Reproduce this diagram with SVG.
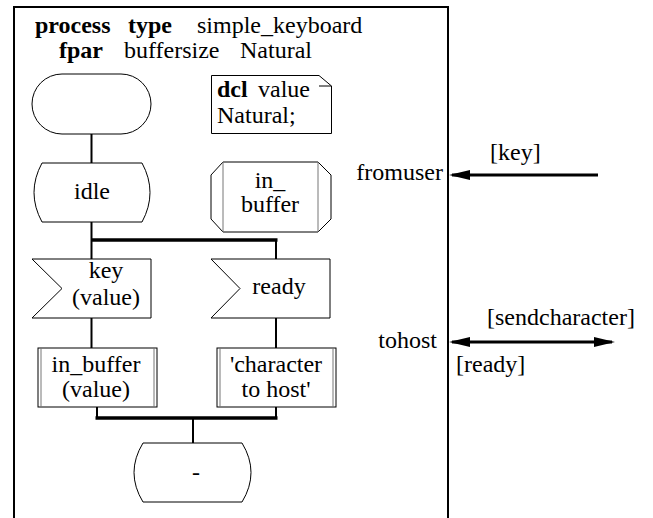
<svg xmlns="http://www.w3.org/2000/svg" width="653" height="518" viewBox="0 0 653 518" font-family="'Liberation Serif', 'DejaVu Serif', serif" font-size="24">
  <style>
    text { font-family: 'Liberation Serif', 'DejaVu Serif', serif; font-size: 24px; fill: #000; }
    .b { font-weight: bold; }
    .c { text-anchor: middle; }
    .e { text-anchor: end; }
    .sym { fill: #fff; stroke: #000; stroke-width: 1; }
    .thin { fill: none; stroke: #000; stroke-width: 1; }
    .inner { fill: none; stroke: #777; stroke-width: 1; }
    .flow { fill: none; stroke: #000; stroke-width: 2; }
    .join { fill: none; stroke: #000; stroke-width: 3.5; }
    .sig { fill: none; stroke: #000; stroke-width: 3; }
    .frame { fill: none; stroke: #000; stroke-width: 2; }
  </style>
  <defs>
    <marker id="ah" viewBox="0 0 21 10" refX="18" refY="5" markerWidth="21" markerHeight="10" markerUnits="userSpaceOnUse" orient="auto-start-reverse">
      <path d="M0,0 L21,5 L0,10 Z" fill="#000"/>
    </marker>
  </defs>

  <rect width="653" height="518" fill="#fff"/>

  <!-- process type frame -->
  <g id="frame">
    <path class="frame" d="M14,518 L14,7 L448,7 L448,518"/>
    <text class="b" x="35" y="33">process</text>
    <text class="b" x="128" y="33">type</text>
    <text x="197" y="33">simple_keyboard</text>
    <text class="b" x="59" y="58">fpar</text>
    <text x="124" y="58">buffersize</text>
    <text x="240" y="58">Natural</text>
  </g>

  <!-- flow lines -->
  <g id="connectors">
    <path class="flow" d="M91.5,134 V163"/>
    <path class="flow" d="M91.5,222 V259"/>
    <path class="flow" d="M276,240 V259"/>
    <path class="join" d="M91.5,240 H277.5"/>
    <path class="flow" d="M91.5,318 V348"/>
    <path class="flow" d="M276,318 V348"/>
    <path class="flow" d="M97,407 V418"/>
    <path class="flow" d="M276,407 V418"/>
    <path class="join" d="M95.5,418 H277.5"/>
    <path class="flow" d="M193,418 V443"/>
    <!-- signal routes -->
    <path class="sig" d="M598,175 H452" marker-end="url(#ah)"/>
    <path class="sig" d="M452,342 H612" marker-start="url(#ah)" marker-end="url(#ah)"/>
  </g>

  <g id="start">
    <rect class="sym" x="32" y="74" width="119" height="60" rx="30" ry="30"/>
  </g>

  <g id="dcl">
    <path class="sym" d="M211.5,75.5 H319 L331.5,86 V133.5 H211.5 Z"/>
    <path class="thin" d="M319,86 H331.5"/>
    <text class="b" x="217" y="97">dcl</text>
    <text x="258" y="97">value</text>
    <text x="217" y="123">Natural;</text>
  </g>

  <g id="state_idle">
    <path class="sym" d="M42,163 H142 Q158,192.5 142,222 H42 Q26,192.5 42,163 Z"/>
    <text class="c" x="92" y="199">idle</text>
  </g>

  <g id="proc_in_buffer">
    <path class="sym" d="M223,162 H318 L331,175 V219 L318,232 H223 L211,219 V175 Z"/>
    <path class="inner" d="M223,162 V232 M318,162 V232"/>
    <text class="c" x="270" y="188">in_</text>
    <text class="c" x="270" y="212">buffer</text>
  </g>

  <g id="input_key">
    <path class="sym" d="M32,259 H151 V318 H32 L62,288.5 Z"/>
    <text class="c" x="106" y="278">key</text>
    <text class="c" x="106" y="305">(value)</text>
  </g>

  <g id="input_ready">
    <path class="sym" d="M211,259 H330 V318 H211 L240,288.5 Z"/>
    <text class="c" x="279" y="294">ready</text>
  </g>

  <g id="call_in_buffer">
    <rect class="sym" x="38" y="348" width="119" height="59"/>
    <path class="inner" d="M41,348 V407 M154,348 V407"/>
    <text class="c" x="96" y="372">in_buffer</text>
    <text class="c" x="96" y="397">(value)</text>
  </g>

  <g id="task_send">
    <rect class="sym" x="217" y="348" width="119" height="59"/>
    <path class="inner" d="M220,348 V407 M333,348 V407"/>
    <text class="c" x="276" y="372">'character</text>
    <text class="c" x="276" y="397">to host'</text>
  </g>

  <g id="state_dash">
    <path class="sym" d="M143,443 H242 Q260,472.5 242,502 H143 Q125,472.5 143,443 Z"/>
    <text class="c" x="196" y="480">-</text>
  </g>

  <g id="gate_fromuser">
    <text class="e" x="443" y="180">fromuser</text>
    <text x="490" y="160">[key]</text>
  </g>

  <g id="gate_tohost">
    <text class="e" x="437" y="348">tohost</text>
    <text x="487" y="325">[sendcharacter]</text>
    <text x="456" y="372">[ready]</text>
  </g>
</svg>
